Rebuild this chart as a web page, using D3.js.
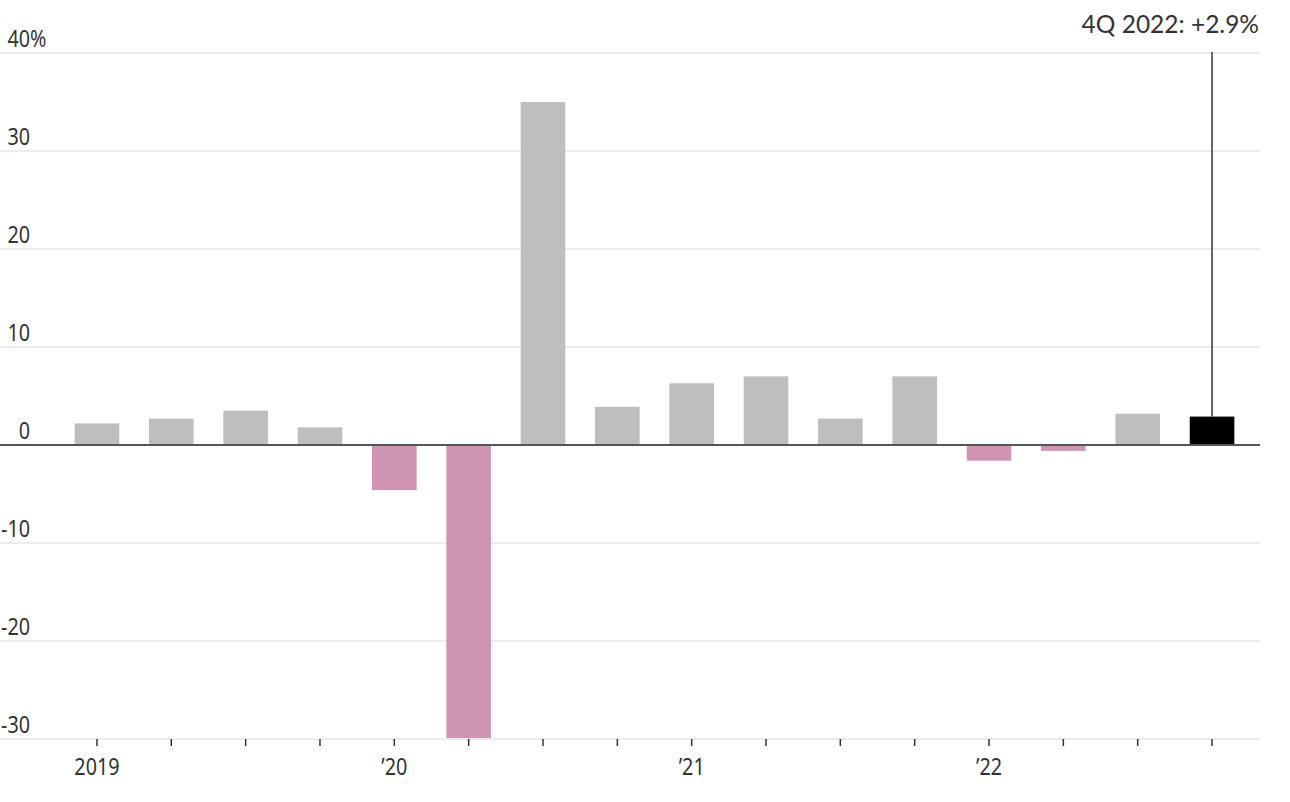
<!DOCTYPE html>
<html>
<head>
<meta charset="utf-8">
<script src="https://cdn.jsdelivr.net/npm/d3@7"></script>
<style>
  html, body { margin: 0; padding: 0; background: #fff; }
  svg { display: block; }
  .ax { font-family: "Noto Sans", "DejaVu Sans", sans-serif; font-size: 23px; fill: #333; }
  .note { font-family: Lato, "Noto Sans", sans-serif; font-size: 24.5px; fill: #333; }
</style>
</head>
<body>
<svg id="chart" width="1290" height="802"></svg>
<script>
const quarters = ["2019Q1","2019Q2","2019Q3","2019Q4","2020Q1","2020Q2","2020Q3","2020Q4",
                  "2021Q1","2021Q2","2021Q3","2021Q4","2022Q1","2022Q2","2022Q3","2022Q4"];
const gdpGrowth = [2.2, 2.7, 3.5, 1.8, -4.6, -29.9, 35.0, 3.9, 6.3, 7.0, 2.7, 7.0, -1.6, -0.6, 3.2, 2.9];
const yTicks = [-30, -20, -10, 0, 10, 20, 30, 40];
const xLabels = {"2019Q1": "2019", "2020Q1": "\u201920", "2021Q1": "\u201921", "2022Q1": "\u201922"};
const annotation = "4Q 2022: +2.9%";

const svg = d3.select("#chart");
const x = d3.scaleBand().domain(quarters).range([59.8, 1249.2]).paddingInner(0.4).paddingOuter(0.2);
const y = d3.scaleLinear().domain([-30, 40]).range([739, 53]);
const gridLeft = 0, gridRight = 1260;
const SX = 0.86; // narrow face emulation

// gridlines
svg.append("g").selectAll("line").data(yTicks.filter(d => d !== 0)).join("line")
  .attr("x1", gridLeft).attr("x2", gridRight)
  .attr("y1", d => y(d)).attr("y2", d => y(d))
  .attr("stroke", "#e4e4e4").attr("stroke-width", 1.5);

// y labels
const yl = svg.append("g");
yl.selectAll("text").data(yTicks).join("text")
  .attr("class", "ax")
  .attr("transform", d => `translate(30,${y(d) - 6}) scale(${SX},1)`)
  .attr("text-anchor", "end")
  .text(d => d);
yl.append("text").attr("class", "ax")
  .attr("transform", `translate(30,${y(40) - 6}) scale(${SX},1)`).text("%");

// bars
const lastQ = quarters[quarters.length - 1];
svg.append("g").selectAll("rect").data(quarters).join("rect")
  .attr("x", d => x(d))
  .attr("width", x.bandwidth())
  .attr("y", (d, i) => y(Math.max(0, gdpGrowth[i])))
  .attr("height", (d, i) => Math.abs(y(gdpGrowth[i]) - y(0)))
  .attr("fill", (d, i) => d === lastQ ? "#000" : (gdpGrowth[i] < 0 ? "#cf94b2" : "#bebebe"));

// zero line
svg.append("line").attr("x1", gridLeft).attr("x2", gridRight)
  .attr("y1", y(0)).attr("y2", y(0)).attr("stroke", "#555").attr("stroke-width", 2);

// x axis ticks
const xc = d => x(d) + x.bandwidth() / 2;
svg.append("g").selectAll("line").data(quarters).join("line")
  .attr("x1", xc).attr("x2", xc)
  .attr("y1", y(-30)).attr("y2", y(-30) + 7)
  .attr("stroke", "#333").attr("stroke-width", 1.5);
svg.append("g").selectAll("text").data(quarters.filter(q => xLabels[q])).join("text")
  .attr("class", "ax")
  .attr("transform", d => `translate(${xc(d)},775) scale(${SX},1)`)
  .attr("text-anchor", "middle")
  .text(d => xLabels[d]);

// annotation
const li = quarters.length - 1;
svg.append("line").attr("x1", xc(lastQ)).attr("x2", xc(lastQ))
  .attr("y1", 52).attr("y2", y(gdpGrowth[li]))
  .attr("stroke", "#333").attr("stroke-width", 1.5);
svg.append("text").attr("class", "note").attr("x", 1259).attr("y", 33)
  .attr("text-anchor", "end").text(annotation);
</script>
</body>
</html>
